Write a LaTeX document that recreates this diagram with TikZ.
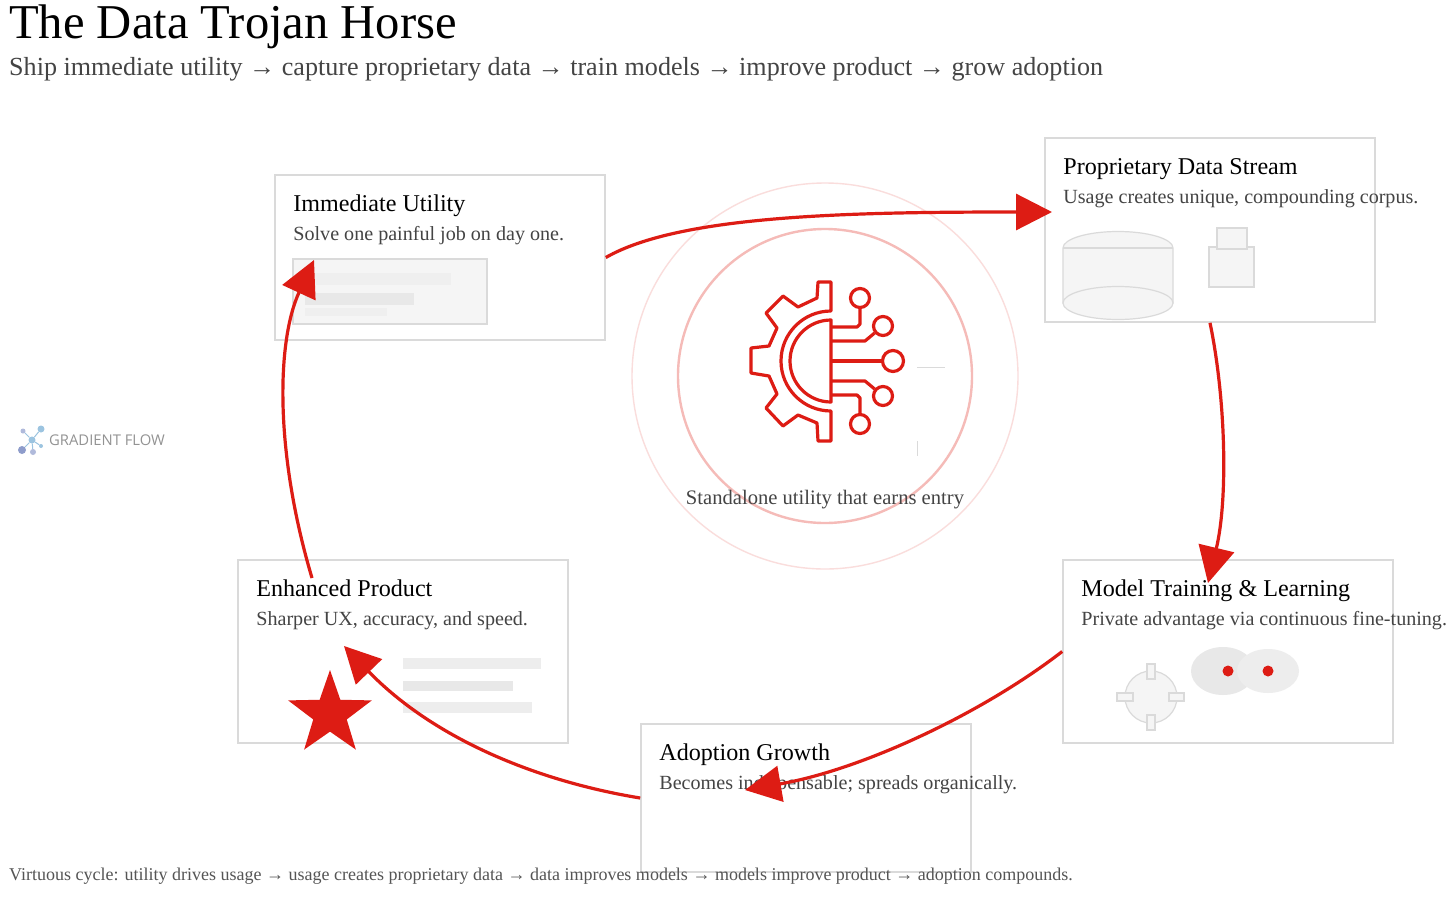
\documentclass[tikz,border=0pt]{standalone}
\usepackage{fontspec}
\setmainfont{Liberation Serif}
\setsansfont{Open Sans}
\usepackage{tikz}
\usetikzlibrary{shapes.geometric, arrows.meta, positioning}
\definecolor{flowred}{HTML}{DD1C14}
\definecolor{cardline}{HTML}{DADADA}
\definecolor{iconfill}{HTML}{F5F5F5}
\definecolor{barfill}{HTML}{E8E8E8}
\definecolor{bodygray}{HTML}{444444}
\definecolor{footgray}{HTML}{555555}
\definecolor{logoblue}{HTML}{9CC4E0}
\definecolor{logoviolet}{HTML}{8E9CCB}
\tikzstyle{card} = [
  rectangle, draw=cardline, line width=1.6pt, fill=white,
  minimum width=330pt, minimum height=184pt, inner sep=0pt
]
\tikzstyle{cardtitle} = [
  inner sep=0pt, text height=17pt, text depth=5pt,
  font=\fontsize{24.1}{28}\selectfont, text=black
]
\tikzstyle{carddesc} = [
  inner sep=0pt, text height=14pt, text depth=4pt,
  font=\fontsize{20.1}{24}\selectfont, text=bodygray
]
\tikzstyle{iconbox} = [draw=cardline, line width=1.2pt, fill=iconfill]
\tikzstyle{bar} = [fill=barfill, draw=none]
\tikzstyle{flow} = [
  -{Triangle[length=36pt, width=36pt]}, line width=3.2pt, color=flowred
]
\tikzstyle{gearline} = [draw=flowred, line width=3.2pt, line join=round]
\tikzstyle{gearport} = [circle, draw=flowred, line width=3.2pt, fill=white, inner sep=0pt]
\begin{document}
\begin{tikzpicture}[x=1pt, y=-1pt, >=Stealth]

  \useasboundingbox (0,0) rectangle (1456,897);
  \fill[white] (0,0) rectangle (1456,897);

  % ── Heading ───────────────────────────────────────────
  \node[anchor=base west, inner sep=0pt, font=\fontsize{48.6}{54}\selectfont, text=black]
    (heading) at (9,38) {The Data Trojan Horse};
  \node[anchor=base west, inner sep=0pt, font=\fontsize{26.1}{30}\selectfont, text=bodygray]
    (subheading) at (9,75) {Ship immediate utility → capture proprietary data → train models → improve product → grow adoption};

  % ── Logo ──────────────────────────────────────────────
  \node[circle, fill=logoblue, inner sep=0pt, minimum size=7pt] (hub) at (32,440) {};
  \node[circle, fill=logoviolet!70, inner sep=0pt, minimum size=5pt] (dota) at (23,431) {};
  \node[circle, fill=logoblue, inner sep=0pt, minimum size=7pt] (dotb) at (41,429) {};
  \node[circle, fill=logoviolet, inner sep=0pt, minimum size=8pt] (dotc) at (22,450) {};
  \node[circle, fill=logoviolet!70, inner sep=0pt, minimum size=6pt] (dotd) at (33,452) {};
  \node[circle, fill=logoblue, inner sep=0pt, minimum size=4pt] (dote) at (41,446) {};
  \draw[logoblue, line width=1pt] (hub) -- (dota);
  \draw[logoblue, line width=1pt] (hub) -- (dotb);
  \draw[logoblue, line width=1pt] (hub) -- (dotc);
  \draw[logoblue, line width=1pt] (hub) -- (dotd);
  \draw[logoblue, line width=1pt] (hub) -- (dote);
  \node[anchor=west, inner sep=0pt, font=\sffamily\fontsize{14.8}{16}\selectfont, text=gray!85]
    (logotext) at (49,440) {GRADIENT FLOW};

  % ── Centre rings ──────────────────────────────────────
  \node[circle, draw=flowred!15, line width=1.4pt, minimum size=386pt, inner sep=0pt] (outerring) at (825,376) {};
  \node[circle, draw=flowred!30, line width=2.4pt, minimum size=294pt, inner sep=0pt] (innerring) at (825,376) {};
  \draw[cardline, line width=.8pt] (917,367) -- (945,367);
  \draw[cardline, line width=.8pt] (917,441) -- (917,456);

  % ── Gear icon ─────────────────────────────────────────
  \draw[gearline] (831,282) -- (818,282) -- (817,298) -- (798,307) -- (783,296) -- (766,313)
    -- (777,328) -- (769,346) -- (751,348) -- (751,373) -- (769,376) -- (777,394)
    -- (766,408) -- (783,426) -- (798,415) -- (817,423) -- (818,441) -- (831,441)
    -- (831,411) arc[start angle=270, delta angle=-180, radius=50pt] -- cycle;
  \draw[gearline] (831,320) arc[start angle=90, delta angle=180, radius=41pt] -- cycle;
  \node[gearport, minimum size=19pt] (porta) at (860,298) {};
  \node[gearport, minimum size=19pt] (portb) at (883,326) {};
  \node[gearport, minimum size=21pt] (portc) at (893,361) {};
  \node[gearport, minimum size=19pt] (portd) at (883,396) {};
  \node[gearport, minimum size=19pt] (porte) at (860,424) {};
  \draw[gearline] (831,327) -- (857,327) -- (860,324) -- (porta);
  \draw[gearline] (831,341) -- (865,341) -- (portb);
  \draw[gearline] (831,361) -- (portc);
  \draw[gearline] (831,381) -- (865,381) -- (portd);
  \draw[gearline] (831,395) -- (857,395) -- (860,398) -- (porte);

  \node[inner sep=0pt, font=\fontsize{20.6}{23}\selectfont, text=bodygray]
    (entry) at (825,500) {Standalone utility that earns entry};

  % ── Immediate Utility ─────────────────────────────────
  \node[card, minimum height=165pt] (utility) at (440,257.5) {};
  \node[cardtitle, below right=20pt and 19pt of utility.north west] (utilitytitle) {Immediate Utility};
  \node[carddesc, below right=10pt and 0pt of utilitytitle.south west] (utilitydesc) {Solve one painful job on day one.};
  \draw[iconbox] (293,259) rectangle (487,324);
  \fill[bar, fill=barfill!70] (305,273) rectangle (451,285);
  \fill[bar] (305,293) rectangle (414,305);
  \fill[bar, fill=barfill!70] (305,308) rectangle (387,316);

  % ── Proprietary Data Stream ───────────────────────────
  \node[card] (data) at (1210,230) {};
  \node[cardtitle, below right=20pt and 19pt of data.north west] (datatitle) {Proprietary Data Stream};
  \node[carddesc, below right=10pt and 0pt of datatitle.south west] (datadesc) {Usage creates unique, compounding corpus.};
  \draw[iconbox] (1063,248) arc[start angle=180, end angle=0, x radius=55pt, y radius=16.5pt]
    -- (1173,303) -- (1063,303) -- cycle;
  \draw[iconbox] (1063,248) -- (1173,248);
  \draw[iconbox] (1118,303) ellipse[x radius=55pt, y radius=16.5pt];
  \draw[iconbox] (1209,247) rectangle (1254,287);
  \draw[iconbox] (1217,228) rectangle (1247,249);

  % ── Model Training & Learning ─────────────────────────
  \node[card, minimum height=183pt] (model) at (1228,651.5) {};
  \node[cardtitle, below right=20pt and 19pt of model.north west] (modeltitle) {Model Training \& Learning};
  \node[carddesc, below right=10pt and 0pt of modeltitle.south west] (modeldesc) {Private advantage via continuous fine-tuning.};
  \draw[iconbox] (1151,697) circle[radius=26pt];
  \draw[iconbox] (1147,664) rectangle (1155,679);
  \draw[iconbox] (1147,715) rectangle (1155,730);
  \draw[iconbox] (1117,693) rectangle (1133,701);
  \draw[iconbox] (1169,693) rectangle (1184,701);
  \fill[barfill] (1223,671) ellipse[x radius=32pt, y radius=24pt];
  \fill[black!7] (1268,671) ellipse[x radius=31pt, y radius=22pt];
  \node[circle, fill=flowred, inner sep=0pt, minimum size=11pt] (doteleft) at (1228,671) {};
  \node[circle, fill=flowred, inner sep=0pt, minimum size=11pt] (doteright) at (1268,671) {};

  % ── Adoption Growth ───────────────────────────────────
  \node[card, minimum height=148pt] (adoption) at (806,798) {};
  \node[cardtitle, below right=20pt and 19pt of adoption.north west] (adoptiontitle) {Adoption Growth};
  \node[carddesc, below right=10pt and 0pt of adoptiontitle.south west] (adoptiondesc) {Becomes indispensable; spreads organically.};

  % ── Enhanced Product ──────────────────────────────────
  \node[card, minimum height=183pt] (product) at (403,651.5) {};
  \node[cardtitle, below right=20pt and 19pt of product.north west] (producttitle) {Enhanced Product};
  \node[carddesc, below right=10pt and 0pt of producttitle.south west] (productdesc) {Sharper UX, accuracy, and speed.};
  \fill[bar, fill=barfill!80] (403,658) rectangle (541,669);
  \fill[bar] (403,681) rectangle (513,691);
  \fill[bar, fill=barfill!80] (403,702) rectangle (532,713);
  \node[star, star points=5, star point ratio=2.5, fill=flowred, inner sep=0pt, minimum size=88pt]
    (starmark) at (330,714) {};

  % ── Footer ────────────────────────────────────────────
  \node[anchor=base west, inner sep=0pt, font=\fontsize{18}{20}\selectfont, text=footgray]
    (footer) at (9,880) {Virtuous cycle: utility drives usage → usage creates proprietary data → data improves models → models improve product → adoption compounds.};

  % ── Arrows ────────────────────────────────────────────
  \coordinate (datain) at (1052,212);
  \coordinate (modelin) at (1208,583);
  \coordinate (adoptionin) at (745,790);
  \coordinate (productin) at (344,646);
  \coordinate (productout) at (312,578);
  \coordinate (utilityin) at (314,260);
  \draw[flow] (utility.east) .. controls (680,215) and (850,212) .. (datain);
  \draw[flow] (data.south) .. controls (1226,400) and (1228,500) .. (modelin);
  \draw[flow] (model.west) .. controls (980,715) and (860,770) .. (adoptionin);
  \draw[flow] (adoption.west) .. controls (530,780) and (430,735) .. (productin);
  \draw[flow] (productout) .. controls (274,450) and (277,340) .. (utilityin);

\end{tikzpicture}
\end{document}
